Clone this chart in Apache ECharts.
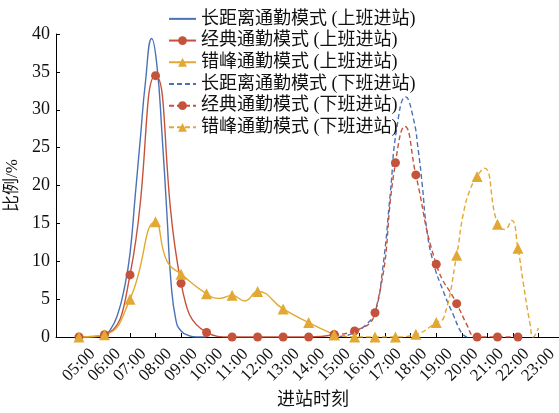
<!DOCTYPE html>
<html>
<head>
<meta charset="utf-8">
<script src="https://cdn.jsdelivr.net/npm/echarts@6/dist/echarts.min.js"></script>
<style>
html,body{margin:0;padding:0;background:#fff;}
#c{width:559px;height:413px;}
</style>
</head>
<body>
<div id="c"></div>
<script>
// ---- tick labels ----
const tickHours = [5,6,7,8,9,10,11,12,13,14,15,16,17,18,19,20,21,22,23];
const tickLabels = ['05:00','06:00','07:00','08:00','09:00','10:00','11:00','12:00','13:00','14:00','15:00','16:00','17:00','18:00','19:00','20:00','21:00','22:00','23:00'];

const seriesNames = ['长距离通勤模式 (上班进站)','经典通勤模式 (上班进站)','错峰通勤模式 (上班进站)',
                     '长距离通勤模式 (下班进站)','经典通勤模式 (下班进站)','错峰通勤模式 (下班进站)'];

// ---- 长距离 上班 (curve only, no markers) ----
const longAmX = [5, 5.5, 6.0, 6.2, 6.5, 6.8, 7.0, 7.2, 7.4, 7.6, 7.85, 8.05, 8.25, 8.45, 8.6, 8.8, 9.0, 9.3, 9.6, 10];
const longAmY = [0, 0, 0.3, 0.8, 2.8, 6.8, 11, 18.5, 26, 33.5, 39.4, 36, 27, 16, 7.5, 2.2, 0.8, 0.2, 0, 0];

// ---- 经典 上班 ----
const classicAmMarkX = [5,6,7,8,9,10,11,12,13,14,15];
const classicAmMarkY = [0,0.3,8.2,34.5,7.1,0.6,0,0,0,0,0.3];
const classicAmCurveX = [];
const classicAmCurveY = [];

// ---- 错峰 上班 ----
const staggerAmMarkX = [5,6,7,8,9,10,11,12,13,14,15];
const staggerAmMarkY = [0,0.3,5.0,15.2,8.3,5.7,5.5,6.0,3.7,1.9,0.3];
const staggerAmCurveX = [8.45, 10.5, 11.5];
const staggerAmCurveY = [10.0, 5.1, 4.75];

// ---- 长距离 下班 (curve only) ----
const longPmX = [14.9, 15.3, 15.8, 16.3, 16.6, 16.9, 17.2, 17.45, 17.8, 18.1, 18.3, 18.45, 18.62, 18.88, 19.28, 19.67, 20.0, 20.2];
const longPmY = [0, 0.1, 0.6, 1.8, 3.2, 9, 19, 27.5, 31.7, 28.9, 24.5, 20.1, 14.4, 9.9, 6, 2.9, 0.5, 0];

// ---- 经典 下班 ----
const classicPmMarkX = [15.0,15.8,16.6,17.4,18.2,19.0,19.8,20.6,21.4,22.2];
const classicPmMarkY = [0.3,0.8,3.2,23.0,21.4,9.6,4.4,0,0,0];
const classicPmCurveX = [17.77, 20.2, 20.45];
const classicPmCurveY = [27.8, 1.6, 0.1];

// ---- 错峰 下班 ----
const staggerPmMarkX = [15.0,15.8,16.6,17.4,18.2,19.0,19.8,20.6,21.4,22.2];
const staggerPmMarkY = [0.3,0,0,0,0.35,1.9,10.8,21.2,14.9,11.7];
const staggerPmCurveX = [19.3, 20.06, 20.32, 20.88, 21.69, 21.95, 22.41, 22.67, 22.8, 23.0];
const staggerPmCurveY = [2.6, 16.3, 19.4, 22.3, 14.2, 15.4, 7.1, 1.8, 0, 1.2];

const BLUE = '#4a72b5', RED = '#c5523a', YEL = '#e2a833';
const FONT = "'Liberation Serif', 'Times New Roman', 'Noto Sans CJK SC', serif";

function build(markX, markY, curveX, curveY) {
  const pts = [];
  markX.forEach((x, i) => pts.push({x: x, y: markY[i], m: true}));
  curveX.forEach((x, i) => pts.push({x: x, y: curveY[i], m: false}));
  pts.sort((a, b) => a.x - b.x);
  return pts.map(p => p.m ? {value: [p.x, p.y]} : {value: [p.x, p.y], symbol: 'none'});
}
function curveOnly(xs, ys) { return xs.map((x, i) => [x, ys[i]]); }

function mk(name, data, color, dashed, symbol, size) {
  return {
    name: name, type: 'line', data: data, smooth: 0.5,
    showAllSymbol: true, symbol: symbol, symbolSize: size,
    clip: true,
    lineStyle: {color: color, width: 1.4, type: dashed ? [5, 3] : 'solid'},
    itemStyle: {color: color, borderWidth: 0},
    emphasis: {disabled: true},
    z: 2
  };
}

const hidden = {color: 'rgba(0,0,0,0)', opacity: 0, borderWidth: 0};

const chart = echarts.init(document.getElementById('c'), null, {renderer: 'canvas'});
chart.setOption({
  animation: false,
  backgroundColor: '#fff',
  grid: {left: 56, top: 34, width: 514, bottom: 76, containLabel: false, outerBoundsMode: 'none'},
  legend: {
    orient: 'vertical', left: 163, top: 3,
    itemWidth: 27, itemHeight: 11, itemGap: 0,
    textStyle: {fontSize: 18, fontFamily: FONT, color: '#111', lineHeight: 21.7},
    data: [
      {name: seriesNames[0], itemStyle: hidden},
      seriesNames[1], seriesNames[2],
      {name: seriesNames[3], itemStyle: hidden},
      seriesNames[4], seriesNames[5]
    ]
  },
  xAxis: {
    type: 'value', min: 4.1, max: 24.24,
    name: '进站时刻', nameLocation: 'middle', nameGap: 54,
    nameTextStyle: {fontSize: 18, fontFamily: FONT, color: '#111'},
    axisLine: {show: true, lineStyle: {color: '#000', width: 1}},
    axisTick: {show: true, inside: true, length: 4, customValues: tickHours, lineStyle: {color: '#000'}},
    axisLabel: {
      customValues: tickHours, rotate: 45, align: 'center', verticalAlign: 'middle', margin: 28,
      fontSize: 17, fontFamily: FONT, color: '#111',
      formatter: v => tickLabels[tickHours.indexOf(Math.round(v))]
    },
    splitLine: {show: false}
  },
  yAxis: {
    type: 'value', min: 0, max: 40, interval: 5,
    name: '比例/%', nameLocation: 'middle', nameGap: 33, nameRotate: 90,
    nameTextStyle: {fontSize: 17, fontFamily: FONT, color: '#111'},
    axisLine: {show: true, lineStyle: {color: '#000', width: 1}},
    axisTick: {show: true, inside: true, length: 4, lineStyle: {color: '#000'}},
    axisLabel: {fontSize: 18, fontFamily: FONT, color: '#111', margin: 6},
    splitLine: {show: false}
  },
  series: [
    mk(seriesNames[0], curveOnly(longAmX, longAmY), BLUE, false, 'none', 0),
    mk(seriesNames[1], build(classicAmMarkX, classicAmMarkY, classicAmCurveX, classicAmCurveY), RED, false, 'circle', 9),
    mk(seriesNames[2], build(staggerAmMarkX, staggerAmMarkY, staggerAmCurveX, staggerAmCurveY), YEL, false, 'triangle', 11),
    mk(seriesNames[3], curveOnly(longPmX, longPmY), BLUE, true, 'none', 0),
    mk(seriesNames[4], build(classicPmMarkX, classicPmMarkY, classicPmCurveX, classicPmCurveY), RED, true, 'circle', 9),
    mk(seriesNames[5], build(staggerPmMarkX, staggerPmMarkY, staggerPmCurveX, staggerPmCurveY), YEL, true, 'triangle', 11)
  ]
});
</script>
</body>
</html>
